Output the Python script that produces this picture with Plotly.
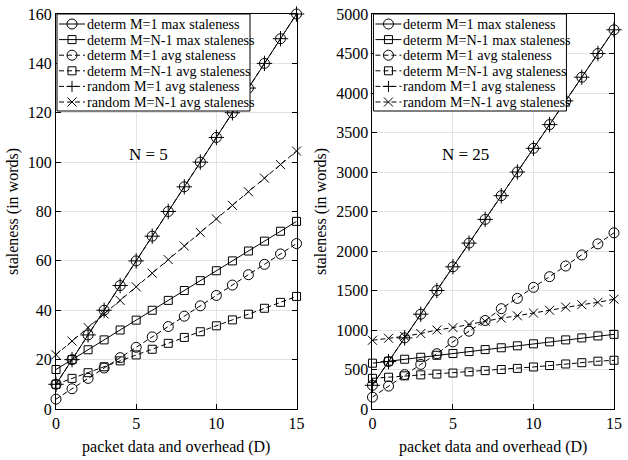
import plotly.graph_objects as go

D = list(range(16))

# N = 5 panel
n5_det_m1_max = [10, 20, 30, 40, 50, 60, 70, 80, 90, 100, 110, 120, 130, 140, 150, 160]
n5_det_mn1_max = [16, 20, 24, 28, 32, 36, 40, 44, 48, 52, 56, 60, 64, 68, 72, 76]
n5_det_m1_avg = [4, 8.2, 12.4, 16.6, 20.8, 25, 29.2, 33.4, 37.6, 41.8, 46, 50.2, 54.4, 58.6, 62.8, 67]
n5_det_mn1_avg = [10, 12.4, 14.7, 17.1, 19.5, 21.9, 24.2, 26.6, 29, 31.3, 33.7, 36.1, 38.4, 40.8, 43.2, 45.6]
n5_rnd_m1_avg = [10, 20, 30, 40, 50, 60, 70, 80, 90, 100, 110, 120, 130, 140, 150, 160]
n5_rnd_mn1_avg = [22, 27.5, 33, 38.5, 44, 49.5, 55, 60.5, 66, 71.5, 77, 82.5, 88, 93.5, 99, 104.5]

# N = 25 panel
n25_det_m1_max = [300, 600, 900, 1200, 1500, 1800, 2100, 2400, 2700, 3000, 3300, 3600, 3900, 4200, 4500, 4800]
n25_det_mn1_max = [580, 605, 630, 655, 680, 703, 727, 752, 775, 800, 825, 850, 875, 900, 925, 945]
n25_det_m1_avg = [150, 290, 435, 565, 700, 850, 985, 1120, 1270, 1400, 1540, 1675, 1810, 1950, 2090, 2230]
n25_det_mn1_avg = [388, 402, 420, 432, 442, 455, 470, 486, 500, 514, 532, 550, 570, 586, 605, 617]
n25_rnd_m1_avg = [300, 600, 900, 1200, 1500, 1800, 2100, 2400, 2700, 3000, 3300, 3600, 3900, 4200, 4500, 4800]
n25_rnd_mn1_avg = [870, 895, 920, 955, 1000, 1030, 1070, 1110, 1150, 1180, 1215, 1250, 1290, 1320, 1350, 1390]

names = ["determ M=1 max staleness", "determ M=N-1 max staleness",
         "determ M=1 avg staleness", "determ M=N-1 avg staleness",
         "random M=1 avg staleness", "random M=N-1 avg staleness"]
panel_titles = ["N = 5", "N = 25"]

symbols = ["circle-open", "square-open", "circle-open", "square-open",
           "cross-thin-open", "x-thin-open"]
sizes = [10, 8, 10, 8, 11, 9]
DASH = "5px,3px"
dashes = ["solid", "solid", DASH, DASH, DASH, DASH]

panels = [
    ("x", "y", [n5_det_m1_max, n5_det_mn1_max, n5_det_m1_avg,
                n5_det_mn1_avg, n5_rnd_m1_avg, n5_rnd_mn1_avg]),
    ("x2", "y2", [n25_det_m1_max, n25_det_mn1_max, n25_det_m1_avg,
                  n25_det_mn1_avg, n25_rnd_m1_avg, n25_rnd_mn1_avg]),
]

FONT = "Liberation Serif"

fig = go.Figure()
for xa, ya, series in panels:
    for name, sym, sz, dash, vals in zip(names, symbols, sizes, dashes, series):
        fig.add_trace(go.Scatter(
            x=D, y=vals, name=name, mode="lines+markers",
            xaxis=xa, yaxis=ya, showlegend=False, cliponaxis=False,
            line=dict(color="black", width=1, dash=dash),
            marker=dict(symbol=sym, size=sz, color="black",
                        line=dict(color="black", width=1)),
        ))

# ---- compact boxed legend drawn inside each panel (pixel offsets from top-left corner)
shapes = []
annotations = []
ROW0, ROWSTEP = 10, 15.6
BOX_W, BOX_H = 193, 97


def marker_shape(sym, xd, yd, cx, cy):
    base = dict(xref=xd, yref=yd, xsizemode="pixel", ysizemode="pixel",
                xanchor=0, yanchor=1, line=dict(color="black", width=1),
                fillcolor="rgba(0,0,0,0)")
    if sym == "circle-open":
        return dict(type="circle", x0=cx - 5, x1=cx + 5, y0=cy - 5, y1=cy + 5, **base)
    if sym == "square-open":
        return dict(type="rect", x0=cx - 4, x1=cx + 4, y0=cy - 4, y1=cy + 4, **base)
    if sym == "cross-thin-open":
        return dict(type="path", path=f"M{cx-5.5},{cy}H{cx+5.5}M{cx},{cy-5.5}V{cy+5.5}", **base)
    return dict(type="path", path=f"M{cx-4.5},{cy-4.5}L{cx+4.5},{cy+4.5}M{cx-4.5},{cy+4.5}L{cx+4.5},{cy-4.5}", **base)


for k, (xa, ya, _) in enumerate(panels):
    xd, yd = f"{xa} domain", f"{ya} domain"
    shapes.append(dict(type="rect", xref=xd, yref=yd, xsizemode="pixel", ysizemode="pixel",
                       xanchor=0, yanchor=1, x0=1, x1=1 + BOX_W, y0=0, y1=-BOX_H,
                       fillcolor="white", line=dict(color="black", width=1)))
    for i, (name, sym, dash) in enumerate(zip(names, symbols, dashes)):
        cy = -(ROW0 + ROWSTEP * i)
        shapes.append(dict(type="line", xref=xd, yref=yd, xsizemode="pixel", ysizemode="pixel",
                           xanchor=0, yanchor=1, x0=3, x1=29, y0=cy, y1=cy,
                           line=dict(color="black", width=1, dash=dash)))
        shapes.append(marker_shape(sym, xd, yd, 16, cy))
        annotations.append(dict(text=name, xref=xd, yref=yd, x=0, y=1, xshift=29, yshift=cy,
                                xanchor="left", yanchor="middle", showarrow=False,
                                font=dict(family=FONT, size=14.2, color="black")))
    annotations.append(dict(text=panel_titles[k], xref=xd, yref=yd, x=0.385, y=0.645,
                            showarrow=False, font=dict(family=FONT, size=17, color="black")))

axis_common = dict(
    showline=True, linecolor="black", linewidth=1, mirror="ticks",
    ticks="inside", ticklen=5, tickcolor="black", tickwidth=1,
    showgrid=True, gridcolor="#e3e3e3", gridwidth=1, zeroline=False,
    tickfont=dict(family=FONT, size=16, color="black"),
)
xt = dict(text="packet data and overhead (D)", font=dict(family=FONT, size=16, color="black"), standoff=9)
yt = dict(text="staleness (in words)", font=dict(family=FONT, size=16, color="black"), standoff=5)

fig.update_layout(
    width=628, height=460,
    margin=dict(l=56, r=6, t=10, b=51),
    plot_bgcolor="white", paper_bgcolor="white",
    font=dict(family=FONT, color="black"),
    showlegend=False,
    xaxis=dict(domain=[0, 0.4311], range=[0, 15], tickvals=[0, 5, 10, 15], title=xt, **axis_common),
    yaxis=dict(domain=[0, 1], range=[0, 160], dtick=20, title=yt, **axis_common),
    xaxis2=dict(domain=[0.5671, 1], range=[0, 15], tickvals=[0, 5, 10, 15], title=xt, anchor="y2", **axis_common),
    yaxis2=dict(domain=[0, 1], range=[0, 5000], dtick=500, title=yt, anchor="x2", **axis_common),
    shapes=shapes,
    annotations=annotations,
)

fig.write_html("out.html")
